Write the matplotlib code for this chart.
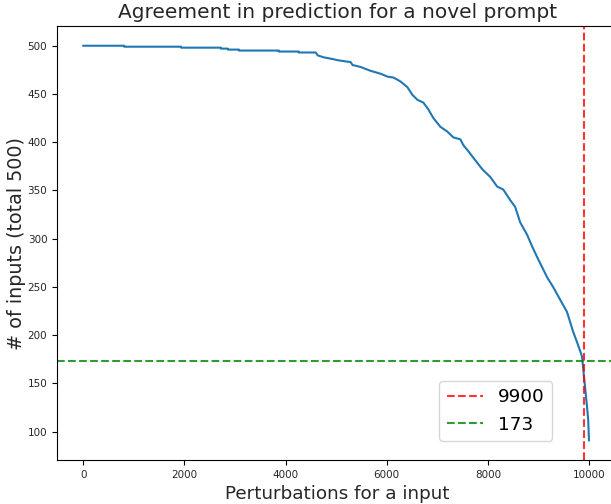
import numpy as np
import matplotlib
matplotlib.use('Agg')
import matplotlib.pyplot as plt

# agreement curve (steps in the flat part)
x = [0, 809, 809, 1933, 1933, 2722, 2722, 2860, 2860, 3077, 3077, 3866, 3866,
     4260, 4260, 4596, 4635, 4753, 4951, 5030, 5286, 5325, 5483, 5680, 5878,
     6016, 6134, 6272, 6410, 6509, 6607, 6726, 6824, 6923, 7061, 7199, 7318,
     7456, 7515, 7594, 7712, 7890, 8047, 8185, 8304, 8442, 8540, 8639, 8777,
     8876, 8974, 9172, 9290, 9428, 9566, 9684, 9783, 9862, 9882, 9921, 9961,
     9985, 10000]
y = [500, 500, 499, 499, 498, 498, 497, 497, 496, 496, 495, 495, 494,
     494, 493, 493, 490, 488, 486, 485, 483, 480, 478, 474, 471,
     468, 467, 463, 457, 449, 444, 441, 434, 425, 416, 411, 405,
     403, 397, 392, 384, 372, 364, 354, 351, 340, 333, 317, 304,
     292, 281, 260, 250, 237, 224, 204, 190, 178, 167, 147, 126,
     112, 91]

x_cut = 9900
y_cut = 173

fig = plt.figure(figsize=(6.11, 5.04), dpi=100)
ax = fig.add_axes([0.0933, 0.0873, 0.917, 0.861])
ax.plot(x, y, color='C0', linewidth=1.5)
ax.axvline(x_cut, color='r', linestyle='--', alpha=0.8, label=str(x_cut))
ax.axhline(y_cut, color='g', linestyle='--', alpha=0.8, label=str(y_cut))

ax.set_xlim(-520, 10560)
ax.set_ylim(70.6, 520.4)
ax.set_title('Agreement in prediction for a novel prompt', fontsize=14.5, color='#262626')
ax.set_xlabel('Perturbations for a input', fontsize=13.2, color='#262626')
ax.set_ylabel('# of inputs (total 500)', fontsize=13.8, color='#262626', labelpad=1)
ax.tick_params(labelsize=7.5, labelcolor='#262626')
ax.legend(fontsize=13.3, loc='lower left', bbox_to_anchor=(0.682, 0.044),
          borderaxespad=0)

fig.savefig('out.png', dpi=100)
